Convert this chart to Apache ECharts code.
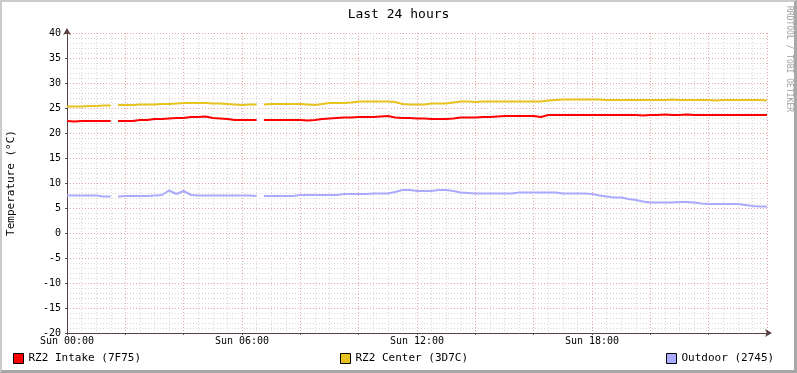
<!DOCTYPE html>
<html>
<head>
<meta charset="utf-8">
<script src="https://cdn.jsdelivr.net/npm/echarts@6/dist/echarts.min.js"></script>
<style>
html,body{margin:0;padding:0;background:#fff;}
#wrap{position:relative;width:797px;height:373px;}
#chart{width:797px;height:373px;}
#frame{position:absolute;left:0;top:0;width:797px;height:373px;box-sizing:border-box;
border-top:2px solid #cbcbcb;border-left:2px solid #cbcbcb;border-right:3px solid #a8a8a8;border-bottom:3px solid #a8a8a8;pointer-events:none;}
</style>
</head>
<body>
<div id="wrap"><div id="chart"></div><div id="frame"></div></div>
<script>
// sampling step of the series (minutes), starting Sun 00:00
const STEP_MIN = 15;
// times (hours) where the data has short gaps (unknown values)
const gapHours = [1.65, 6.6];
const seriesNames = ['RZ2 Intake (7F75)', 'RZ2 Center (3D7C)', 'Outdoor (2745)'];
const seriesColors = ['#ff0000', '#e8c21e', '#aaaaff'];
const xTickLabels = {0: 'Sun 00:00', 6: 'Sun 06:00', 12: 'Sun 12:00', 18: 'Sun 18:00'};

const intake = [
22.4,22.3,22.4,22.4,22.4,22.4,22.4,22.4,22.4,22.4,
22.6,22.6,22.8,22.8,22.9,23.0,23.0,23.2,23.2,23.3,
23.0,22.9,22.8,22.6,22.6,22.6,22.6,22.6,22.6,22.6,
22.6,22.6,22.6,22.5,22.6,22.8,22.9,23.0,23.1,23.1,
23.2,23.2,23.2,23.3,23.4,23.1,23.0,23.0,22.9,22.9,
22.8,22.8,22.8,22.9,23.1,23.1,23.1,23.2,23.2,23.3,
23.4,23.4,23.4,23.4,23.4,23.2,23.6,23.6,23.6,23.6,
23.6,23.6,23.6,23.6,23.6,23.6,23.6,23.6,23.6,23.5,
23.6,23.6,23.7,23.6,23.6,23.7,23.6,23.6,23.6,23.6,
23.6,23.6,23.6,23.6,23.6,23.6,23.6
];
const center = [
25.3,25.3,25.3,25.4,25.4,25.5,25.5,25.6,25.6,25.6,
25.7,25.7,25.7,25.8,25.8,25.9,26.0,26.0,26.0,26.0,
25.9,25.9,25.8,25.7,25.6,25.7,25.7,25.7,25.8,25.8,
25.8,25.8,25.8,25.7,25.6,25.8,26.0,26.0,26.0,26.1,
26.3,26.3,26.3,26.3,26.3,26.2,25.8,25.7,25.7,25.7,
25.9,25.9,25.9,26.1,26.3,26.3,26.2,26.3,26.3,26.3,
26.3,26.3,26.3,26.3,26.3,26.3,26.5,26.6,26.7,26.7,
26.7,26.7,26.7,26.7,26.6,26.6,26.6,26.6,26.6,26.6,
26.6,26.6,26.6,26.7,26.6,26.6,26.6,26.6,26.6,26.5,
26.6,26.6,26.6,26.6,26.6,26.6,26.5
];
const outdoor = [
7.5,7.5,7.5,7.5,7.5,7.3,7.3,7.3,7.4,7.4,
7.4,7.4,7.5,7.6,8.5,7.8,8.4,7.6,7.5,7.5,
7.5,7.5,7.5,7.5,7.5,7.5,7.4,7.4,7.4,7.4,
7.4,7.4,7.6,7.6,7.6,7.6,7.6,7.6,7.8,7.8,
7.8,7.8,7.9,7.9,7.9,8.2,8.6,8.6,8.4,8.4,
8.4,8.6,8.6,8.4,8.1,8.0,7.9,7.9,7.9,7.9,
7.9,7.9,8.1,8.1,8.1,8.1,8.1,8.1,7.9,7.9,
7.9,7.9,7.8,7.5,7.3,7.1,7.1,6.8,6.6,6.3,
6.1,6.1,6.1,6.1,6.2,6.2,6.1,5.9,5.8,5.8,
5.8,5.8,5.8,5.6,5.4,5.3,5.3
];
const seriesValues = [intake, center, outdoor];

const FONT = 'DejaVu Sans Mono';
function toPairs(vals){
  const pts = vals.map((v,i)=>[i*STEP_MIN/60, v]);
  gapHours.forEach(g=>pts.push([g, null]));
  pts.sort((a,b)=>a[0]-b[0]);
  return pts;
}

const chart = echarts.init(document.getElementById('chart'), null, {renderer:'canvas'});
const legendLefts = [13, 340, 666];
chart.setOption({
  animation:false,
  backgroundColor:'#ffffff',
  title:{text:'Last 24 hours', left:'center', top:3,
    textStyle:{fontFamily:FONT, fontSize:13, fontWeight:'normal', color:'#000'}},
  grid:{left:67, right:30, top:33, bottom:40, containLabel:false, outerBoundsMode:'none'},
  legend: seriesNames.map((n,i)=>({
    data:[n], left:legendLefts[i], top:353, icon:'rect', itemWidth:10, itemHeight:10,
    itemGap:5, padding:0,
    itemStyle:{borderColor:'#000', borderWidth:1},
    textStyle:{fontFamily:FONT, fontSize:11, color:'#000', padding:[0,0,0,0]},
    selectedMode:false
  })),
  xAxis:{type:'value', min:0, max:24, interval:2,
    axisLine:{show:true, onZero:false, symbol:['none','arrow'], symbolSize:[6,7], symbolOffset:[0,5],
      lineStyle:{color:'#5a4040', width:1}},
    axisTick:{show:true, length:2, inside:false, lineStyle:{color:'#555'}},
    minorTick:{show:false, splitNumber:4},
    axisLabel:{margin:3, fontFamily:FONT, fontSize:10, color:'#000',
      formatter:(v)=> xTickLabels[v] !== undefined ? xTickLabels[v] : ''},
    splitLine:{show:true, lineStyle:{color:'#e6a6a6', type:[1,2], width:1}},
    minorSplitLine:{show:true, lineStyle:{color:'#d6d6d6', type:[1,2], width:1}}
  },
  yAxis:{type:'value', min:-20, max:40, interval:5,
    name:'Temperature (°C)', nameLocation:'middle', nameGap:50, nameMoveOverlap:false,
    nameTextStyle:{fontFamily:FONT, fontSize:11, color:'#000'},
    axisLine:{show:true, onZero:false, symbol:['none','arrow'], symbolSize:[6,7], symbolOffset:[0,5],
      lineStyle:{color:'#5a4040', width:1}},
    axisTick:{show:true, length:2, lineStyle:{color:'#555'}},
    minorTick:{show:false, splitNumber:5},
    axisLabel:{margin:6, fontFamily:FONT, fontSize:10, color:'#000'},
    splitLine:{show:true, lineStyle:{color:'#e6a6a6', type:[1,2], width:1}},
    minorSplitLine:{show:true, lineStyle:{color:'#d6d6d6', type:[1,2], width:1}}
  },
  series: seriesNames.map((n,i)=>({
    name:n, type:'line', data:toPairs(seriesValues[i]), showSymbol:false, symbol:'none',
    connectNulls:false, color:seriesColors[i],
    lineStyle:{color:seriesColors[i], width:2}, z:3
  })),
  graphic:[{type:'text', x:789, y:6, rotation:-Math.PI/2,
    style:{text:'RRDTOOL / TOBI OETIKER', font:'8px "DejaVu Sans Mono"', fill:'#a0a0a0',
      textAlign:'left', textVerticalAlign:'middle'}}]
});
</script>
</body>
</html>
